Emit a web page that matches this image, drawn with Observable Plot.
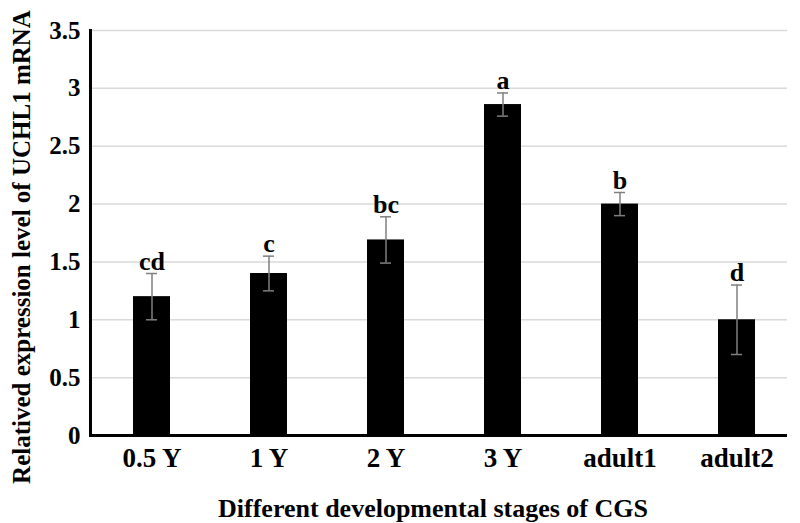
<!DOCTYPE html>
<html>
<head>
<meta charset="utf-8">
<script src="https://cdn.jsdelivr.net/npm/d3@7"></script>
<script src="https://cdn.jsdelivr.net/npm/@observablehq/plot@0.6"></script>
<style>
  body { margin: 0; background: #fff; }
  svg { font-family: "Liberation Serif", "Times New Roman", serif; font-weight: bold; }
</style>
</head>
<body>
<div id="chart"></div>
<script>
const stages = ["0.5 Y", "1 Y", "2 Y", "3 Y", "adult1", "adult2"];
const means = [1.2, 1.4, 1.69, 2.86, 2.0, 1.0];
const errors = [0.2, 0.15, 0.2, 0.1, 0.1, 0.3];
const letters = ["cd", "c", "bc", "a", "b", "d"];
const yTicks = [0, 0.5, 1, 1.5, 2, 2.5, 3, 3.5];
const yTitle = "Relatived expression level of UCHL1 mRNA";
const xTitle = "Different developmental stages of CGS";

const data = stages.map((s, i) => ({stage: s, mean: means[i], err: errors[i], letter: letters[i]}));

const chart = Plot.plot({
  width: 800,
  height: 523,
  marginLeft: 90,
  marginRight: 13,
  marginTop: 30,
  marginBottom: 88,
  style: {fontFamily: "Liberation Serif, serif", fontWeight: "bold", background: "#fff"},
  x: {domain: stages, range: [91, 797], paddingInner: 0.685, paddingOuter: 0.3425, label: null},
  y: {domain: [0, 3.5], label: null},
  marks: [
    Plot.gridY(yTicks, {stroke: "#d9d9d9", strokeOpacity: 1, strokeWidth: 1.5}),
    Plot.axisY(yTicks, {tickSize: 0, tickPadding: 10, fontSize: 25, tickFormat: d => String(d), label: null}),
    Plot.axisX({tickSize: 0, tickPadding: 12, fontSize: 27, label: null}),
    Plot.barY(data, {x: "stage", y: "mean", fill: "#000"}),
    Plot.ruleX(data, {x: "stage", y1: d => d.mean - d.err, y2: d => d.mean + d.err, stroke: "#7f7f7f", strokeWidth: 1.5}),
    Plot.tickY(data, {x: "stage", y: d => d.mean - d.err, stroke: "#7f7f7f", strokeWidth: 1.5, insetLeft: 13, insetRight: 13}),
    Plot.tickY(data, {x: "stage", y: d => d.mean + d.err, stroke: "#7f7f7f", strokeWidth: 1.5, insetLeft: 13, insetRight: 13}),
    Plot.text(data, {x: "stage", y: d => d.mean + d.err, text: "letter", dy: -4, lineAnchor: "bottom", fontSize: 26, fill: "#000"}),
    Plot.ruleY([0], {stroke: "#000", strokeWidth: 3}),
    Plot.frame({anchor: "left", stroke: "#000", strokeWidth: 3}),
    Plot.text([yTitle], {frameAnchor: "left", textAnchor: "middle", lineAnchor: "middle", rotate: -90, dx: -69, dy: 14, fontSize: 25, fill: "#000"}),
    Plot.text([xTitle], {frameAnchor: "bottom", lineAnchor: "middle", dx: -6, dy: 73, fontSize: 26, fill: "#000"})
  ]
});
document.getElementById("chart").appendChild(chart);
</script>
</body>
</html>
